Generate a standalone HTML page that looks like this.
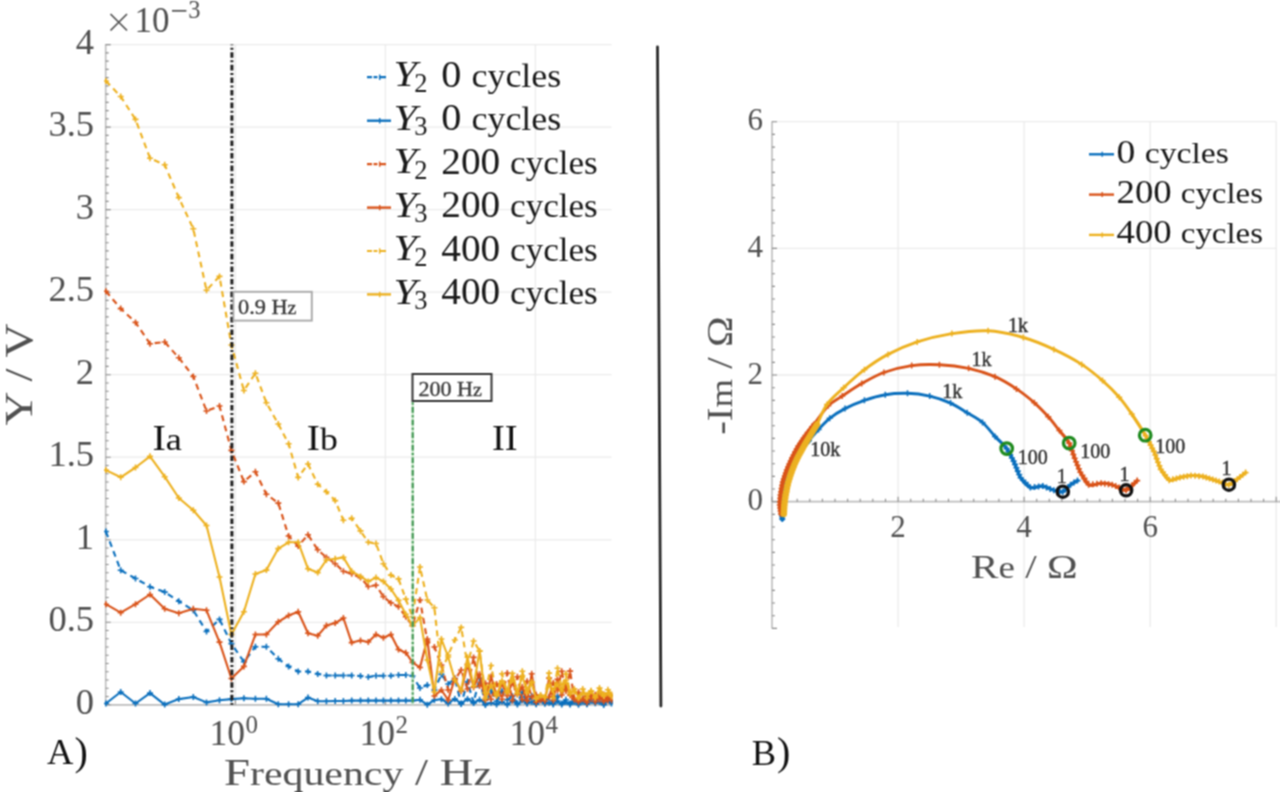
<!DOCTYPE html>
<html><head><meta charset="utf-8"><title>Figure</title>
<style>
html,body{margin:0;padding:0;background:#fff;overflow:hidden;}
svg{display:block;font-family:"Liberation Serif", serif;}

</style></head><body>
<svg width="1280" height="792" viewBox="0 0 1280 792">
<defs><filter id="soft" filterUnits="userSpaceOnUse" x="0" y="0" width="1280" height="792" color-interpolation-filters="sRGB"><feConvolveMatrix order="3" kernelMatrix="1 2 1 2 4 2 1 2 1" divisor="16" edgeMode="duplicate"/></filter><clipPath id="clipL"><rect x="104" y="40" width="509" height="668"/></clipPath></defs>
<g filter="url(#soft)">
<rect width="1280" height="792" fill="#fff"/>
<line x1="105.7" y1="704.8" x2="611.5" y2="704.8" stroke="#ebebeb" stroke-width="1.3"/>
<line x1="105.7" y1="622.3" x2="611.5" y2="622.3" stroke="#ebebeb" stroke-width="1.3"/>
<line x1="105.7" y1="539.8" x2="611.5" y2="539.8" stroke="#ebebeb" stroke-width="1.3"/>
<line x1="105.7" y1="457.2" x2="611.5" y2="457.2" stroke="#ebebeb" stroke-width="1.3"/>
<line x1="105.7" y1="374.7" x2="611.5" y2="374.7" stroke="#ebebeb" stroke-width="1.3"/>
<line x1="105.7" y1="292.2" x2="611.5" y2="292.2" stroke="#ebebeb" stroke-width="1.3"/>
<line x1="105.7" y1="209.6" x2="611.5" y2="209.6" stroke="#ebebeb" stroke-width="1.3"/>
<line x1="105.7" y1="127.1" x2="611.5" y2="127.1" stroke="#ebebeb" stroke-width="1.3"/>
<line x1="105.7" y1="44.6" x2="611.5" y2="44.6" stroke="#ebebeb" stroke-width="1.3"/>
<line x1="235.4" y1="44.6" x2="235.4" y2="704.8" stroke="#ebebeb" stroke-width="1.3"/>
<line x1="385.4" y1="44.6" x2="385.4" y2="704.8" stroke="#ebebeb" stroke-width="1.3"/>
<line x1="535.4" y1="44.6" x2="535.4" y2="704.8" stroke="#ebebeb" stroke-width="1.3"/>
<line x1="105.7" y1="44.1" x2="105.7" y2="704.8" stroke="#bdbdbd" stroke-width="1.6"/>
<line x1="105.7" y1="704.8" x2="611.5" y2="704.8" stroke="#bdbdbd" stroke-width="1.8"/>
<path d="M105.7 704.8h5M105.7 696.5h3M105.7 688.3h3M105.7 680h3M105.7 671.8h3M105.7 663.5h3M105.7 655.3h3M105.7 647h3M105.7 638.8h3M105.7 630.5h3M105.7 622.3h5M105.7 614h3M105.7 605.8h3M105.7 597.5h3M105.7 589.3h3M105.7 581h3M105.7 572.8h3M105.7 564.5h3M105.7 556.3h3M105.7 548h3M105.7 539.8h5M105.7 531.5h3M105.7 523.2h3M105.7 515h3M105.7 506.7h3M105.7 498.5h3M105.7 490.2h3M105.7 482h3M105.7 473.7h3M105.7 465.5h3M105.7 457.2h5M105.7 449h3M105.7 440.7h3M105.7 432.5h3M105.7 424.2h3M105.7 416h3M105.7 407.7h3M105.7 399.5h3M105.7 391.2h3M105.7 383h3M105.7 374.7h5M105.7 366.4h3M105.7 358.2h3M105.7 349.9h3M105.7 341.7h3M105.7 333.4h3M105.7 325.2h3M105.7 316.9h3M105.7 308.7h3M105.7 300.4h3M105.7 292.2h5M105.7 283.9h3M105.7 275.7h3M105.7 267.4h3M105.7 259.2h3M105.7 250.9h3M105.7 242.7h3M105.7 234.4h3M105.7 226.2h3M105.7 217.9h3M105.7 209.6h5M105.7 201.4h3M105.7 193.1h3M105.7 184.9h3M105.7 176.6h3M105.7 168.4h3M105.7 160.1h3M105.7 151.9h3M105.7 143.6h3M105.7 135.4h3M105.7 127.1h5M105.7 118.9h3M105.7 110.6h3M105.7 102.4h3M105.7 94.1h3M105.7 85.9h3M105.7 77.6h3M105.7 69.4h3M105.7 61.1h3M105.7 52.9h3M105.7 44.6h5" stroke="#8a8a8a" stroke-width="1.1" fill="none"/>
<path d="M235.4 704.8v-5M385.4 704.8v-5M535.4 704.8v-5" stroke="#8a8a8a" stroke-width="1.1" fill="none"/>
<g clip-path="url(#clipL)">
<polyline points="105.9,531.5 120.7,570.3 135.5,578.5 150,586.7 164.7,592.1 178.8,601.2 193.3,610.3 206.5,631.5 219.5,619.4 231.4,643.6 243.9,661.8 255.4,646.7 266.4,646.7 278.3,658.8 288.6,666.4 298.2,671.5 308,671.5 317.7,673.9 326.4,675.5 335.2,675.5 343.4,675.5 351.7,675.5 360.5,676 368.3,677 376,675.7 383.4,675.7 390.9,675.7 398.5,675 405.8,675 412.5,676 420,688 427.3,685 434.4,690 441.4,674.4 448.2,684 454.8,678.5 461.2,703.9 467.5,681.8 473.6,702.6 479.6,678.2 485.4,704.9 491.1,691 496.6,701.4 502,691.2 507.3,699.8 512.4,696.3 517.4,703.2 522.3,692.4 527.1,703.5 531.7,696.1 536.2,704.3 540.6,696.7 544.9,702.2 549.1,697 553.3,704.3 557.5,696.4 561.7,703.4 565.9,699.8 570.1,703.6 574.3,698.9 578.5,704.8 582.7,698.2 586.9,703.9 591.1,698.1 595.3,702.1 599.5,697.8 603.7,703.7 607.9,696.7 611.5,701.9" fill="none" stroke="#0a6fbd" stroke-width="2.1" stroke-linejoin="round" stroke-dasharray="6 4.5"/>
<path d="M102.9 531.5h6M105.9 528.5v6M117.7 570.3h6M120.7 567.3v6M132.5 578.5h6M135.5 575.5v6M147 586.7h6M150 583.7v6M161.7 592.1h6M164.7 589.1v6M175.8 601.2h6M178.8 598.2v6M190.3 610.3h6M193.3 607.3v6M203.5 631.5h6M206.5 628.5v6M216.5 619.4h6M219.5 616.4v6M228.4 643.6h6M231.4 640.6v6M240.9 661.8h6M243.9 658.8v6M252.4 646.7h6M255.4 643.7v6M263.4 646.7h6M266.4 643.7v6M275.3 658.8h6M278.3 655.8v6M285.6 666.4h6M288.6 663.4v6M295.2 671.5h6M298.2 668.5v6M305 671.5h6M308 668.5v6M314.7 673.9h6M317.7 670.9v6M323.4 675.5h6M326.4 672.5v6M332.2 675.5h6M335.2 672.5v6M340.4 675.5h6M343.4 672.5v6M348.7 675.5h6M351.7 672.5v6M357.5 676h6M360.5 673v6M365.3 677h6M368.3 674v6M373 675.7h6M376 672.7v6M380.4 675.7h6M383.4 672.7v6M387.9 675.7h6M390.9 672.7v6M395.5 675h6M398.5 672v6M402.8 675h6M405.8 672v6M409.5 676h6M412.5 673v6M417 688h6M420 685v6M424.3 685h6M427.3 682v6M431.4 690h6M434.4 687v6M438.4 674.4h6M441.4 671.4v6M445.2 684h6M448.2 681v6M451.8 678.5h6M454.8 675.5v6M458.2 703.9h6M461.2 700.9v6M464.5 681.8h6M467.5 678.8v6M470.6 702.6h6M473.6 699.6v6M476.6 678.2h6M479.6 675.2v6M482.4 704.9h6M485.4 701.9v6M488.1 691h6M491.1 688v6M493.6 701.4h6M496.6 698.4v6M499 691.2h6M502 688.2v6M504.3 699.8h6M507.3 696.8v6M509.4 696.3h6M512.4 693.3v6M514.4 703.2h6M517.4 700.2v6M519.3 692.4h6M522.3 689.4v6M524.1 703.5h6M527.1 700.5v6M528.7 696.1h6M531.7 693.1v6M533.2 704.3h6M536.2 701.3v6M537.6 696.7h6M540.6 693.7v6M541.9 702.2h6M544.9 699.2v6M546.1 697h6M549.1 694v6M550.3 704.3h6M553.3 701.3v6M554.5 696.4h6M557.5 693.4v6M558.7 703.4h6M561.7 700.4v6M562.9 699.8h6M565.9 696.8v6M567.1 703.6h6M570.1 700.6v6M571.3 698.9h6M574.3 695.9v6M575.5 704.8h6M578.5 701.8v6M579.7 698.2h6M582.7 695.2v6M583.9 703.9h6M586.9 700.9v6M588.1 698.1h6M591.1 695.1v6M592.3 702.1h6M595.3 699.1v6M596.5 697.8h6M599.5 694.8v6M600.7 703.7h6M603.7 700.7v6M604.9 696.7h6M607.9 693.7v6M608.5 701.9h6M611.5 698.9v6" stroke="#0a6fbd" stroke-width="1.6" fill="none"/>
<polyline points="105.9,703.5 120.7,692 135.5,703.5 150,693.1 164.7,704.6 178.8,699.1 193.3,697 206.5,702.4 219.5,700.2 231.4,699.1 243.9,698.2 255.4,698.8 266.4,698.8 278.3,704.2 288.6,704.2 298.2,704.2 308,697.6 317.7,701.2 326.4,701.2 335.2,701 343.4,701 351.7,700.6 360.5,700.6 368.3,700.6 376,700.6 383.4,700.6 390.9,700.6 398.5,700.6 405.8,700.6 412.5,700.6 420,699.8 427.3,704.7 434.4,700 441.4,699.2 448.2,703.5 454.8,698.9 461.2,703.6 467.5,698.9 473.6,702.9 479.6,699.7 485.4,703.9 491.1,702.7 496.6,704.5 502,701.8 507.3,704.8 512.4,700.7 517.4,704.5 522.3,700.6 527.1,703.3 531.7,702.1 536.2,703.4 540.6,700.5 544.9,703.8 549.1,702.7 553.3,704.2 557.5,701 561.7,704.5 565.9,702.1 570.1,704.5 574.3,702 578.5,703.6 582.7,701.8 586.9,704.3 591.1,701 595.3,703.3 599.5,701.9 603.7,704.9 607.9,700.1 611.5,703.5" fill="none" stroke="#0a6fbd" stroke-width="2.1" stroke-linejoin="round"/>
<path d="M102.9 703.5h6M105.9 700.5v6M117.7 692h6M120.7 689v6M132.5 703.5h6M135.5 700.5v6M147 693.1h6M150 690.1v6M161.7 704.6h6M164.7 701.6v6M175.8 699.1h6M178.8 696.1v6M190.3 697h6M193.3 694v6M203.5 702.4h6M206.5 699.4v6M216.5 700.2h6M219.5 697.2v6M228.4 699.1h6M231.4 696.1v6M240.9 698.2h6M243.9 695.2v6M252.4 698.8h6M255.4 695.8v6M263.4 698.8h6M266.4 695.8v6M275.3 704.2h6M278.3 701.2v6M285.6 704.2h6M288.6 701.2v6M295.2 704.2h6M298.2 701.2v6M305 697.6h6M308 694.6v6M314.7 701.2h6M317.7 698.2v6M323.4 701.2h6M326.4 698.2v6M332.2 701h6M335.2 698v6M340.4 701h6M343.4 698v6M348.7 700.6h6M351.7 697.6v6M357.5 700.6h6M360.5 697.6v6M365.3 700.6h6M368.3 697.6v6M373 700.6h6M376 697.6v6M380.4 700.6h6M383.4 697.6v6M387.9 700.6h6M390.9 697.6v6M395.5 700.6h6M398.5 697.6v6M402.8 700.6h6M405.8 697.6v6M409.5 700.6h6M412.5 697.6v6M417 699.8h6M420 696.8v6M424.3 704.7h6M427.3 701.7v6M431.4 700h6M434.4 697v6M438.4 699.2h6M441.4 696.2v6M445.2 703.5h6M448.2 700.5v6M451.8 698.9h6M454.8 695.9v6M458.2 703.6h6M461.2 700.6v6M464.5 698.9h6M467.5 695.9v6M470.6 702.9h6M473.6 699.9v6M476.6 699.7h6M479.6 696.7v6M482.4 703.9h6M485.4 700.9v6M488.1 702.7h6M491.1 699.7v6M493.6 704.5h6M496.6 701.5v6M499 701.8h6M502 698.8v6M504.3 704.8h6M507.3 701.8v6M509.4 700.7h6M512.4 697.7v6M514.4 704.5h6M517.4 701.5v6M519.3 700.6h6M522.3 697.6v6M524.1 703.3h6M527.1 700.3v6M528.7 702.1h6M531.7 699.1v6M533.2 703.4h6M536.2 700.4v6M537.6 700.5h6M540.6 697.5v6M541.9 703.8h6M544.9 700.8v6M546.1 702.7h6M549.1 699.7v6M550.3 704.2h6M553.3 701.2v6M554.5 701h6M557.5 698v6M558.7 704.5h6M561.7 701.5v6M562.9 702.1h6M565.9 699.1v6M567.1 704.5h6M570.1 701.5v6M571.3 702h6M574.3 699v6M575.5 703.6h6M578.5 700.6v6M579.7 701.8h6M582.7 698.8v6M583.9 704.3h6M586.9 701.3v6M588.1 701h6M591.1 698v6M592.3 703.3h6M595.3 700.3v6M596.5 701.9h6M599.5 698.9v6M600.7 704.9h6M603.7 701.9v6M604.9 700.1h6M607.9 697.1v6M608.5 703.5h6M611.5 700.5v6" stroke="#0a6fbd" stroke-width="1.6" fill="none"/>
<polyline points="105.9,291.2 120.7,308.6 135.5,322.4 150,343.7 164.7,342 178.8,357.8 193.3,376.5 206.5,411 219.5,406 231.4,450.4 243.9,481.6 255.4,471.8 266.4,494.3 278.3,503.1 288.6,536 298.2,546.1 308,534.7 317.7,549.8 326.4,557.4 335.2,563.7 343.4,571.3 351.7,573.8 360.5,577.6 368.3,586.5 376,585.2 383.4,596.6 390.9,602.9 398.5,606.7 405.8,616.8 412.5,625.6 420,600 427.3,641 434.4,647 441.4,665 448.2,690 454.8,680 461.2,670 467.5,689 473.6,657.4 479.6,685.9 485.4,683.2 491.1,699.3 496.6,683.9 502,699.3 507.3,673 512.4,700.5 517.4,676.8 522.3,699.5 527.1,681.2 531.7,696.9 536.2,694.7 540.6,700.3 544.9,698.3 549.1,696.9 553.3,683 557.5,690.2 561.7,671.3 565.9,691 570.1,671.1 574.3,699.4 578.5,692.3 582.7,699.2 586.9,696.1 591.1,699 595.3,694.8 599.5,699.4 603.7,694.4 607.9,700.5 611.5,695.5" fill="none" stroke="#d95319" stroke-width="2.1" stroke-linejoin="round" stroke-dasharray="6 4.5"/>
<path d="M102.9 291.2h6M105.9 288.2v6M117.7 308.6h6M120.7 305.6v6M132.5 322.4h6M135.5 319.4v6M147 343.7h6M150 340.7v6M161.7 342h6M164.7 339v6M175.8 357.8h6M178.8 354.8v6M190.3 376.5h6M193.3 373.5v6M203.5 411h6M206.5 408v6M216.5 406h6M219.5 403v6M228.4 450.4h6M231.4 447.4v6M240.9 481.6h6M243.9 478.6v6M252.4 471.8h6M255.4 468.8v6M263.4 494.3h6M266.4 491.3v6M275.3 503.1h6M278.3 500.1v6M285.6 536h6M288.6 533v6M295.2 546.1h6M298.2 543.1v6M305 534.7h6M308 531.7v6M314.7 549.8h6M317.7 546.8v6M323.4 557.4h6M326.4 554.4v6M332.2 563.7h6M335.2 560.7v6M340.4 571.3h6M343.4 568.3v6M348.7 573.8h6M351.7 570.8v6M357.5 577.6h6M360.5 574.6v6M365.3 586.5h6M368.3 583.5v6M373 585.2h6M376 582.2v6M380.4 596.6h6M383.4 593.6v6M387.9 602.9h6M390.9 599.9v6M395.5 606.7h6M398.5 603.7v6M402.8 616.8h6M405.8 613.8v6M409.5 625.6h6M412.5 622.6v6M417 600h6M420 597v6M424.3 641h6M427.3 638v6M431.4 647h6M434.4 644v6M438.4 665h6M441.4 662v6M445.2 690h6M448.2 687v6M451.8 680h6M454.8 677v6M458.2 670h6M461.2 667v6M464.5 689h6M467.5 686v6M470.6 657.4h6M473.6 654.4v6M476.6 685.9h6M479.6 682.9v6M482.4 683.2h6M485.4 680.2v6M488.1 699.3h6M491.1 696.3v6M493.6 683.9h6M496.6 680.9v6M499 699.3h6M502 696.3v6M504.3 673h6M507.3 670v6M509.4 700.5h6M512.4 697.5v6M514.4 676.8h6M517.4 673.8v6M519.3 699.5h6M522.3 696.5v6M524.1 681.2h6M527.1 678.2v6M528.7 696.9h6M531.7 693.9v6M533.2 694.7h6M536.2 691.7v6M537.6 700.3h6M540.6 697.3v6M541.9 698.3h6M544.9 695.3v6M546.1 696.9h6M549.1 693.9v6M550.3 683h6M553.3 680v6M554.5 690.2h6M557.5 687.2v6M558.7 671.3h6M561.7 668.3v6M562.9 691h6M565.9 688v6M567.1 671.1h6M570.1 668.1v6M571.3 699.4h6M574.3 696.4v6M575.5 692.3h6M578.5 689.3v6M579.7 699.2h6M582.7 696.2v6M583.9 696.1h6M586.9 693.1v6M588.1 699h6M591.1 696v6M592.3 694.8h6M595.3 691.8v6M596.5 699.4h6M599.5 696.4v6M600.7 694.4h6M603.7 691.4v6M604.9 700.5h6M607.9 697.5v6M608.5 695.5h6M611.5 692.5v6" stroke="#d95319" stroke-width="1.6" fill="none"/>
<polyline points="105.9,604.2 120.7,612.7 135.5,604.2 150,594.5 164.7,608.8 178.8,613.3 193.3,608.8 206.5,610.3 219.5,642.1 231.4,678.5 243.9,666.4 255.4,634.5 266.4,634.4 278.3,621.8 288.6,615.5 298.2,611.7 308,633.2 317.7,635.7 326.4,625.6 335.2,623.1 343.4,618 351.7,642.6 360.5,640.5 368.3,642 376,634.5 383.4,637.7 390.9,634.5 398.5,649.5 405.8,652.7 412.5,662.4 420,667.5 427.3,639 434.4,696 441.4,690 448.2,700 454.8,678.6 461.2,691.2 467.5,664.2 473.6,687.2 479.6,674.2 485.4,700.2 491.1,676.5 496.6,695.9 502,683.9 507.3,695.6 512.4,682.3 517.4,694.6 522.3,687 527.1,700.6 531.7,673.7 536.2,702.1 540.6,698.8 544.9,701 549.1,678.1 553.3,700.4 557.5,679.4 561.7,695 565.9,685.8 570.1,695.2 574.3,698.3 578.5,701.9 582.7,698.5 586.9,702.4 591.1,694.1 595.3,701.7 599.5,694 603.7,701.6 607.9,695.9 611.5,700.3" fill="none" stroke="#d95319" stroke-width="2.1" stroke-linejoin="round"/>
<path d="M102.9 604.2h6M105.9 601.2v6M117.7 612.7h6M120.7 609.7v6M132.5 604.2h6M135.5 601.2v6M147 594.5h6M150 591.5v6M161.7 608.8h6M164.7 605.8v6M175.8 613.3h6M178.8 610.3v6M190.3 608.8h6M193.3 605.8v6M203.5 610.3h6M206.5 607.3v6M216.5 642.1h6M219.5 639.1v6M228.4 678.5h6M231.4 675.5v6M240.9 666.4h6M243.9 663.4v6M252.4 634.5h6M255.4 631.5v6M263.4 634.4h6M266.4 631.4v6M275.3 621.8h6M278.3 618.8v6M285.6 615.5h6M288.6 612.5v6M295.2 611.7h6M298.2 608.7v6M305 633.2h6M308 630.2v6M314.7 635.7h6M317.7 632.7v6M323.4 625.6h6M326.4 622.6v6M332.2 623.1h6M335.2 620.1v6M340.4 618h6M343.4 615v6M348.7 642.6h6M351.7 639.6v6M357.5 640.5h6M360.5 637.5v6M365.3 642h6M368.3 639v6M373 634.5h6M376 631.5v6M380.4 637.7h6M383.4 634.7v6M387.9 634.5h6M390.9 631.5v6M395.5 649.5h6M398.5 646.5v6M402.8 652.7h6M405.8 649.7v6M409.5 662.4h6M412.5 659.4v6M417 667.5h6M420 664.5v6M424.3 639h6M427.3 636v6M431.4 696h6M434.4 693v6M438.4 690h6M441.4 687v6M445.2 700h6M448.2 697v6M451.8 678.6h6M454.8 675.6v6M458.2 691.2h6M461.2 688.2v6M464.5 664.2h6M467.5 661.2v6M470.6 687.2h6M473.6 684.2v6M476.6 674.2h6M479.6 671.2v6M482.4 700.2h6M485.4 697.2v6M488.1 676.5h6M491.1 673.5v6M493.6 695.9h6M496.6 692.9v6M499 683.9h6M502 680.9v6M504.3 695.6h6M507.3 692.6v6M509.4 682.3h6M512.4 679.3v6M514.4 694.6h6M517.4 691.6v6M519.3 687h6M522.3 684v6M524.1 700.6h6M527.1 697.6v6M528.7 673.7h6M531.7 670.7v6M533.2 702.1h6M536.2 699.1v6M537.6 698.8h6M540.6 695.8v6M541.9 701h6M544.9 698v6M546.1 678.1h6M549.1 675.1v6M550.3 700.4h6M553.3 697.4v6M554.5 679.4h6M557.5 676.4v6M558.7 695h6M561.7 692v6M562.9 685.8h6M565.9 682.8v6M567.1 695.2h6M570.1 692.2v6M571.3 698.3h6M574.3 695.3v6M575.5 701.9h6M578.5 698.9v6M579.7 698.5h6M582.7 695.5v6M583.9 702.4h6M586.9 699.4v6M588.1 694.1h6M591.1 691.1v6M592.3 701.7h6M595.3 698.7v6M596.5 694h6M599.5 691v6M600.7 701.6h6M603.7 698.6v6M604.9 695.9h6M607.9 692.9v6M608.5 700.3h6M611.5 697.3v6" stroke="#d95319" stroke-width="1.6" fill="none"/>
<polyline points="105.9,81 120.7,96.5 135.5,119.4 150,158.2 164.7,164.8 178.8,197.6 193.3,228.8 206.5,290.2 219.5,276.4 231.4,345 243.9,390.5 255.4,373.3 266.4,402.8 278.3,424 288.6,443.8 298.2,477.4 308,464 317.7,484.2 326.4,491.8 335.2,500.6 343.4,520.3 351.7,518.3 360.5,530.9 368.3,542.3 376,543.5 383.4,563.7 390.9,575.1 398.5,578.9 405.8,599.1 412.5,616.8 420,567 427.3,600 434.4,607.8 441.4,672 448.2,655 454.8,640 461.2,627.4 467.5,665 473.6,641 479.6,651.1 485.4,692.9 491.1,665.5 496.6,694.1 502,673.7 507.3,692.6 512.4,680.1 517.4,693.5 522.3,671.3 527.1,690 531.7,681.9 536.2,698.9 540.6,695 544.9,697.2 549.1,673.1 553.3,697.6 557.5,668.3 561.7,687.9 565.9,673.7 570.1,691.5 574.3,691.6 578.5,697.9 582.7,689.1 586.9,697.7 591.1,691.3 595.3,697 599.5,692.4 603.7,696.1 607.9,689.7 611.5,694.5" fill="none" stroke="#edb120" stroke-width="2.1" stroke-linejoin="round" stroke-dasharray="6 4.5"/>
<path d="M102.9 81h6M105.9 78v6M117.7 96.5h6M120.7 93.5v6M132.5 119.4h6M135.5 116.4v6M147 158.2h6M150 155.2v6M161.7 164.8h6M164.7 161.8v6M175.8 197.6h6M178.8 194.6v6M190.3 228.8h6M193.3 225.8v6M203.5 290.2h6M206.5 287.2v6M216.5 276.4h6M219.5 273.4v6M228.4 345h6M231.4 342v6M240.9 390.5h6M243.9 387.5v6M252.4 373.3h6M255.4 370.3v6M263.4 402.8h6M266.4 399.8v6M275.3 424h6M278.3 421v6M285.6 443.8h6M288.6 440.8v6M295.2 477.4h6M298.2 474.4v6M305 464h6M308 461v6M314.7 484.2h6M317.7 481.2v6M323.4 491.8h6M326.4 488.8v6M332.2 500.6h6M335.2 497.6v6M340.4 520.3h6M343.4 517.3v6M348.7 518.3h6M351.7 515.3v6M357.5 530.9h6M360.5 527.9v6M365.3 542.3h6M368.3 539.3v6M373 543.5h6M376 540.5v6M380.4 563.7h6M383.4 560.7v6M387.9 575.1h6M390.9 572.1v6M395.5 578.9h6M398.5 575.9v6M402.8 599.1h6M405.8 596.1v6M409.5 616.8h6M412.5 613.8v6M417 567h6M420 564v6M424.3 600h6M427.3 597v6M431.4 607.8h6M434.4 604.8v6M438.4 672h6M441.4 669v6M445.2 655h6M448.2 652v6M451.8 640h6M454.8 637v6M458.2 627.4h6M461.2 624.4v6M464.5 665h6M467.5 662v6M470.6 641h6M473.6 638v6M476.6 651.1h6M479.6 648.1v6M482.4 692.9h6M485.4 689.9v6M488.1 665.5h6M491.1 662.5v6M493.6 694.1h6M496.6 691.1v6M499 673.7h6M502 670.7v6M504.3 692.6h6M507.3 689.6v6M509.4 680.1h6M512.4 677.1v6M514.4 693.5h6M517.4 690.5v6M519.3 671.3h6M522.3 668.3v6M524.1 690h6M527.1 687v6M528.7 681.9h6M531.7 678.9v6M533.2 698.9h6M536.2 695.9v6M537.6 695h6M540.6 692v6M541.9 697.2h6M544.9 694.2v6M546.1 673.1h6M549.1 670.1v6M550.3 697.6h6M553.3 694.6v6M554.5 668.3h6M557.5 665.3v6M558.7 687.9h6M561.7 684.9v6M562.9 673.7h6M565.9 670.7v6M567.1 691.5h6M570.1 688.5v6M571.3 691.6h6M574.3 688.6v6M575.5 697.9h6M578.5 694.9v6M579.7 689.1h6M582.7 686.1v6M583.9 697.7h6M586.9 694.7v6M588.1 691.3h6M591.1 688.3v6M592.3 697h6M595.3 694v6M596.5 692.4h6M599.5 689.4v6M600.7 696.1h6M603.7 693.1v6M604.9 689.7h6M607.9 686.7v6M608.5 694.5h6M611.5 691.5v6" stroke="#edb120" stroke-width="1.6" fill="none"/>
<polyline points="105.9,470.1 120.7,477.3 135.5,467.5 150,456.3 164.7,476.7 178.8,498 193.3,510.3 206.5,525.5 219.5,577 231.4,634.5 243.9,611.8 255.4,574 266.4,570.1 278.3,548.6 288.6,542.3 298.2,542.3 308,568.8 317.7,572.6 326.4,560 335.2,558.7 343.4,557.4 351.7,571.3 360.5,576.4 368.3,581.4 376,577.6 383.4,581.4 390.9,589 398.5,600.4 405.8,614.2 412.5,625.6 420,617.6 427.3,660 434.4,692 441.4,639 448.2,657 454.8,680 461.2,690 467.5,657.3 473.6,686.2 479.6,651 485.4,698.4 491.1,685.4 496.6,695.8 502,680.8 507.3,690.9 512.4,673.4 517.4,693.3 522.3,675.8 527.1,692.6 531.7,683 536.2,698.8 540.6,695.7 544.9,697.5 549.1,684.5 553.3,690 557.5,684.3 561.7,691.3 565.9,680.2 570.1,694 574.3,688.9 578.5,697.9 582.7,693.2 586.9,694.8 591.1,690.7 595.3,697.7 599.5,688.1 603.7,694.7 607.9,692.9 611.5,696.5" fill="none" stroke="#edb120" stroke-width="2.1" stroke-linejoin="round"/>
<path d="M102.9 470.1h6M105.9 467.1v6M117.7 477.3h6M120.7 474.3v6M132.5 467.5h6M135.5 464.5v6M147 456.3h6M150 453.3v6M161.7 476.7h6M164.7 473.7v6M175.8 498h6M178.8 495v6M190.3 510.3h6M193.3 507.3v6M203.5 525.5h6M206.5 522.5v6M216.5 577h6M219.5 574v6M228.4 634.5h6M231.4 631.5v6M240.9 611.8h6M243.9 608.8v6M252.4 574h6M255.4 571v6M263.4 570.1h6M266.4 567.1v6M275.3 548.6h6M278.3 545.6v6M285.6 542.3h6M288.6 539.3v6M295.2 542.3h6M298.2 539.3v6M305 568.8h6M308 565.8v6M314.7 572.6h6M317.7 569.6v6M323.4 560h6M326.4 557v6M332.2 558.7h6M335.2 555.7v6M340.4 557.4h6M343.4 554.4v6M348.7 571.3h6M351.7 568.3v6M357.5 576.4h6M360.5 573.4v6M365.3 581.4h6M368.3 578.4v6M373 577.6h6M376 574.6v6M380.4 581.4h6M383.4 578.4v6M387.9 589h6M390.9 586v6M395.5 600.4h6M398.5 597.4v6M402.8 614.2h6M405.8 611.2v6M409.5 625.6h6M412.5 622.6v6M417 617.6h6M420 614.6v6M424.3 660h6M427.3 657v6M431.4 692h6M434.4 689v6M438.4 639h6M441.4 636v6M445.2 657h6M448.2 654v6M451.8 680h6M454.8 677v6M458.2 690h6M461.2 687v6M464.5 657.3h6M467.5 654.3v6M470.6 686.2h6M473.6 683.2v6M476.6 651h6M479.6 648v6M482.4 698.4h6M485.4 695.4v6M488.1 685.4h6M491.1 682.4v6M493.6 695.8h6M496.6 692.8v6M499 680.8h6M502 677.8v6M504.3 690.9h6M507.3 687.9v6M509.4 673.4h6M512.4 670.4v6M514.4 693.3h6M517.4 690.3v6M519.3 675.8h6M522.3 672.8v6M524.1 692.6h6M527.1 689.6v6M528.7 683h6M531.7 680v6M533.2 698.8h6M536.2 695.8v6M537.6 695.7h6M540.6 692.7v6M541.9 697.5h6M544.9 694.5v6M546.1 684.5h6M549.1 681.5v6M550.3 690h6M553.3 687v6M554.5 684.3h6M557.5 681.3v6M558.7 691.3h6M561.7 688.3v6M562.9 680.2h6M565.9 677.2v6M567.1 694h6M570.1 691v6M571.3 688.9h6M574.3 685.9v6M575.5 697.9h6M578.5 694.9v6M579.7 693.2h6M582.7 690.2v6M583.9 694.8h6M586.9 691.8v6M588.1 690.7h6M591.1 687.7v6M592.3 697.7h6M595.3 694.7v6M596.5 688.1h6M599.5 685.1v6M600.7 694.7h6M603.7 691.7v6M604.9 692.9h6M607.9 689.9v6M608.5 696.5h6M611.5 693.5v6" stroke="#edb120" stroke-width="1.6" fill="none"/>
</g>
<line x1="231.9" y1="44.6" x2="231.9" y2="704.8" stroke="#1e1e1e" stroke-width="3" stroke-dasharray="5.6 2.5 2 2.5" stroke-dashoffset="5"/>
<line x1="412.7" y1="401" x2="412.7" y2="704.8" stroke="#bfe6c0" stroke-width="2"/>
<line x1="412.7" y1="401" x2="412.7" y2="704.8" stroke="#3f9550" stroke-width="2.2" stroke-dasharray="5.6 2.5 2 2.5" stroke-dashoffset="6.5"/>
<rect x="233.4" y="291.8" width="78.4" height="28.8" fill="#fff" stroke="#a8a8a8" stroke-width="1.9"/>
<text x="238" y="313.8" font-size="20" fill="#3a3a3a" text-anchor="start" textLength="58.5" lengthAdjust="spacingAndGlyphs" stroke="#3a3a3a" stroke-width="0.35" style="">0.9 H<tspan font-size="18">z</tspan></text>
<rect x="412.5" y="374" width="79" height="27" fill="#fff" stroke="#333" stroke-width="2"/>
<text x="418.4" y="395.8" font-size="20" fill="#3a3a3a" text-anchor="start" textLength="63.5" lengthAdjust="spacingAndGlyphs" stroke="#3a3a3a" stroke-width="0.35" style="">200 H<tspan font-size="18">z</tspan></text>
<text x="152.5" y="450.4" font-size="36" fill="#111" text-anchor="start" textLength="29.5" lengthAdjust="spacingAndGlyphs"  style="">I<tspan font-size="32.5">a</tspan></text>
<text x="306.8" y="450.4" font-size="36" fill="#111" text-anchor="start" textLength="31" lengthAdjust="spacingAndGlyphs"  style="">I<tspan font-size="32.5">b</tspan></text>
<text x="492" y="449.7" font-size="36" fill="#111" text-anchor="start" textLength="25.7" lengthAdjust="spacingAndGlyphs"  style="">II</text>
<path d="M367 77.2h5M373.5 77.2h4M380 77.2h6" stroke="#0a6fbd" stroke-width="2.2" fill="none"/>
<path d="M379.7 74.5v5.4" stroke="#0a6fbd" stroke-width="1.4"/>
<text x="393.5" y="86.3" font-size="36" fill="#1a1a1a" text-anchor="start" textLength="23.5" lengthAdjust="spacingAndGlyphs"  style="font-style:italic">Y</text>
<text x="414.3" y="91.8" font-size="26.5" fill="#1a1a1a" text-anchor="start"  style="">2</text>
<text x="441.3" y="87" font-size="37.5" fill="#1a1a1a" text-anchor="start" textLength="120" lengthAdjust="spacingAndGlyphs"  style="">0 <tspan font-size="33.5">cycles</tspan></text>
<path d="M367 120.7h24" stroke="#0a6fbd" stroke-width="2.4" fill="none"/>
<path d="M379.7 118v5.4" stroke="#0a6fbd" stroke-width="1.4"/>
<text x="393.5" y="129.8" font-size="36" fill="#1a1a1a" text-anchor="start" textLength="23.5" lengthAdjust="spacingAndGlyphs"  style="font-style:italic">Y</text>
<text x="414.3" y="135.2" font-size="26.5" fill="#1a1a1a" text-anchor="start"  style="">3</text>
<text x="441.3" y="130.4" font-size="37.5" fill="#1a1a1a" text-anchor="start" textLength="120" lengthAdjust="spacingAndGlyphs"  style="">0 <tspan font-size="33.5">cycles</tspan></text>
<path d="M367 164.1h5M373.5 164.1h4M380 164.1h6" stroke="#d95319" stroke-width="2.2" fill="none"/>
<path d="M379.7 161.4v5.4" stroke="#d95319" stroke-width="1.4"/>
<text x="393.5" y="173.2" font-size="36" fill="#1a1a1a" text-anchor="start" textLength="23.5" lengthAdjust="spacingAndGlyphs"  style="font-style:italic">Y</text>
<text x="414.3" y="178.7" font-size="26.5" fill="#1a1a1a" text-anchor="start"  style="">2</text>
<text x="441.3" y="173.9" font-size="37.5" fill="#1a1a1a" text-anchor="start" textLength="156.5" lengthAdjust="spacingAndGlyphs"  style="">200 <tspan font-size="33.5">cycles</tspan></text>
<path d="M367 207.6h24" stroke="#d95319" stroke-width="2.4" fill="none"/>
<path d="M379.7 204.9v5.4" stroke="#d95319" stroke-width="1.4"/>
<text x="393.5" y="216.7" font-size="36" fill="#1a1a1a" text-anchor="start" textLength="23.5" lengthAdjust="spacingAndGlyphs"  style="font-style:italic">Y</text>
<text x="414.3" y="222.2" font-size="26.5" fill="#1a1a1a" text-anchor="start"  style="">3</text>
<text x="441.3" y="217.4" font-size="37.5" fill="#1a1a1a" text-anchor="start" textLength="156.5" lengthAdjust="spacingAndGlyphs"  style="">200 <tspan font-size="33.5">cycles</tspan></text>
<path d="M367 251h5M373.5 251h4M380 251h6" stroke="#edb120" stroke-width="2.2" fill="none"/>
<path d="M379.7 248.3v5.4" stroke="#edb120" stroke-width="1.4"/>
<text x="393.5" y="260.1" font-size="36" fill="#1a1a1a" text-anchor="start" textLength="23.5" lengthAdjust="spacingAndGlyphs"  style="font-style:italic">Y</text>
<text x="414.3" y="265.6" font-size="26.5" fill="#1a1a1a" text-anchor="start"  style="">2</text>
<text x="441.3" y="260.8" font-size="37.5" fill="#1a1a1a" text-anchor="start" textLength="156.5" lengthAdjust="spacingAndGlyphs"  style="">400 <tspan font-size="33.5">cycles</tspan></text>
<path d="M367 294.4h24" stroke="#edb120" stroke-width="2.4" fill="none"/>
<path d="M379.7 291.8v5.4" stroke="#edb120" stroke-width="1.4"/>
<text x="393.5" y="303.6" font-size="36" fill="#1a1a1a" text-anchor="start" textLength="23.5" lengthAdjust="spacingAndGlyphs"  style="font-style:italic">Y</text>
<text x="414.3" y="309.1" font-size="26.5" fill="#1a1a1a" text-anchor="start"  style="">3</text>
<text x="441.3" y="304.2" font-size="37.5" fill="#1a1a1a" text-anchor="start" textLength="156.5" lengthAdjust="spacingAndGlyphs"  style="">400 <tspan font-size="33.5">cycles</tspan></text>
<text x="94" y="713.8" font-size="36.5" fill="#505050" text-anchor="end"  style="">0</text>
<text x="94" y="631.3" font-size="36.5" fill="#505050" text-anchor="end"  style="">0.5</text>
<text x="94" y="548.8" font-size="36.5" fill="#505050" text-anchor="end"  style="">1</text>
<text x="94" y="466.2" font-size="36.5" fill="#505050" text-anchor="end"  style="">1.5</text>
<text x="94" y="383.7" font-size="36.5" fill="#505050" text-anchor="end"  style="">2</text>
<text x="94" y="301.2" font-size="36.5" fill="#505050" text-anchor="end"  style="">2.5</text>
<text x="94" y="218.6" font-size="36.5" fill="#505050" text-anchor="end"  style="">3</text>
<text x="94" y="136.1" font-size="36.5" fill="#505050" text-anchor="end"  style="">3.5</text>
<text x="94" y="53.6" font-size="36.5" fill="#505050" text-anchor="end"  style="">4</text>
<text x="209.4" y="745" font-size="35.5" fill="#505050" text-anchor="start"  style="">10</text>
<text x="245.4" y="733.3" font-size="25" fill="#505050" text-anchor="start"  style="">0</text>
<text x="359.4" y="745" font-size="35.5" fill="#505050" text-anchor="start"  style="">10</text>
<text x="395.4" y="733.3" font-size="25" fill="#505050" text-anchor="start"  style="">2</text>
<text x="509.4" y="745" font-size="35.5" fill="#505050" text-anchor="start"  style="">10</text>
<text x="545.4" y="733.3" font-size="25" fill="#505050" text-anchor="start"  style="">4</text>
<path d="M110.5 14L127 30.5M127 14L110.5 30.5" stroke="#505050" stroke-width="1.7" fill="none"/>
<text x="134.5" y="31.5" font-size="35" fill="#505050" text-anchor="start"  style="">10</text>
<path d="M172 10.8H186.4" stroke="#505050" stroke-width="1.7"/>
<text x="188.3" y="17.8" font-size="24.5" fill="#505050" text-anchor="start"  style="">3</text>
<text x="224" y="785.4" font-size="38.5" fill="#505050" text-anchor="start" textLength="268" lengthAdjust="spacingAndGlyphs"  style="">F<tspan font-size="34.5">requency</tspan> / H<tspan font-size="34.5">z</tspan></text>
<text transform="translate(31.5,374.5) rotate(-90)" x="0" y="0" font-size="39.5" fill="#505050" text-anchor="middle" textLength="102" lengthAdjust="spacingAndGlyphs">Y / V</text>
<text x="47" y="764.3" font-size="36.5" fill="#111" text-anchor="start"  style="">A</text>
<text x="74.6" y="764.6" font-size="40" fill="#111" text-anchor="start"  style="">)</text>
<line x1="657.5" y1="46.8" x2="660.9" y2="706" stroke="#2a2a2a" stroke-width="2.8" stroke-linecap="round"/>
<line x1="898.1" y1="121.7" x2="898.1" y2="626.9" stroke="#ebebeb" stroke-width="1.3"/>
<line x1="1024.1" y1="121.7" x2="1024.1" y2="626.9" stroke="#ebebeb" stroke-width="1.3"/>
<line x1="1150.2" y1="121.7" x2="1150.2" y2="626.9" stroke="#ebebeb" stroke-width="1.3"/>
<line x1="1276.2" y1="121.7" x2="1276.2" y2="626.9" stroke="#ebebeb" stroke-width="1.3"/>
<line x1="772" y1="375" x2="1276.2" y2="375" stroke="#ebebeb" stroke-width="1.3"/>
<line x1="772" y1="248.4" x2="1276.2" y2="248.4" stroke="#ebebeb" stroke-width="1.3"/>
<line x1="772" y1="121.7" x2="1276.2" y2="121.7" stroke="#ebebeb" stroke-width="1.3"/>
<line x1="772.0" y1="121.2" x2="772.0" y2="628.4" stroke="#bdbdbd" stroke-width="1.6"/>
<line x1="772.0" y1="501.7" x2="1280" y2="501.7" stroke="#bdbdbd" stroke-width="1.8"/>
<path d="M772 628.4h5M772 615.7h3M772 603h3M772 590.4h3M772 577.7h3M772 565h3M772 552.4h3M772 539.7h3M772 527h3M772 514.4h3M772 501.7h5M772 489h3M772 476.4h3M772 463.7h3M772 451h3M772 438.4h3M772 425.7h3M772 413h3M772 400.4h3M772 387.7h3M772 375h5M772 362.4h3M772 349.7h3M772 337h3M772 324.4h3M772 311.7h3M772 299h3M772 286.4h3M772 273.7h3M772 261h3M772 248.4h5M772 235.7h3M772 223h3M772 210.4h3M772 197.7h3M772 185.1h3M772 172.4h3M772 159.7h3M772 147.1h3M772 134.4h3M772 121.7h5M772 501.7v-5M784.6 501.7v-3M797.2 501.7v-3M809.8 501.7v-3M822.4 501.7v-3M835 501.7v-3M847.6 501.7v-3M860.2 501.7v-3M872.8 501.7v-3M885.5 501.7v-3M898.1 501.7v-5M910.7 501.7v-3M923.3 501.7v-3M935.9 501.7v-3M948.5 501.7v-3M961.1 501.7v-3M973.7 501.7v-3M986.3 501.7v-3M998.9 501.7v-3M1011.5 501.7v-3M1024.1 501.7v-5M1036.7 501.7v-3M1049.3 501.7v-3M1061.9 501.7v-3M1074.5 501.7v-3M1087.2 501.7v-3M1099.8 501.7v-3M1112.4 501.7v-3M1125 501.7v-3M1137.6 501.7v-3M1150.2 501.7v-5M1162.8 501.7v-3M1175.4 501.7v-3M1188 501.7v-3M1200.6 501.7v-3M1213.2 501.7v-3M1225.8 501.7v-3M1238.4 501.7v-3M1251 501.7v-3M1263.6 501.7v-3M1276.2 501.7v-5" stroke="#8a8a8a" stroke-width="1.1" fill="none"/>
<text x="763" y="130.2" font-size="31" fill="#505050" text-anchor="end"  style="">6</text>
<text x="763" y="256.9" font-size="31" fill="#505050" text-anchor="end"  style="">4</text>
<text x="763" y="383.5" font-size="31" fill="#505050" text-anchor="end"  style="">2</text>
<text x="763" y="510.2" font-size="31" fill="#505050" text-anchor="end"  style="">0</text>
<text x="898.1" y="536.5" font-size="31" fill="#505050" text-anchor="middle"  style="">2</text>
<text x="1024.1" y="536.5" font-size="31" fill="#505050" text-anchor="middle"  style="">4</text>
<text x="1150.2" y="536.5" font-size="31" fill="#505050" text-anchor="middle"  style="">6</text>
<text x="971" y="578.1" font-size="34.5" fill="#505050" text-anchor="start" textLength="106.5" lengthAdjust="spacingAndGlyphs"  style="">R<tspan font-size="31">e</tspan> / Ω</text>
<text transform="translate(731.5,375.6) rotate(-90)" x="0" y="0" font-size="36" fill="#505050" text-anchor="middle" textLength="118.5" lengthAdjust="spacingAndGlyphs">-I<tspan font-size="32">m</tspan> / Ω</text>
<text x="751.8" y="764.8" font-size="36.5" fill="#111" text-anchor="start"  style="">B</text>
<text x="777" y="764.8" font-size="40" fill="#111" text-anchor="start"  style="">)</text>
<path d="M782.3 518.9C782.2 517.4 781.8 513.1 781.8 510C781.8 506.9 781.9 503.7 782.3 500C782.7 496.3 783.1 492.2 784 488C784.9 483.8 786.1 479.3 787.5 475C788.9 470.7 790.5 466.1 792.5 462C794.5 457.9 796.8 454.1 799.5 450.5C802.2 446.9 807.3 442.2 808.9 440.6" fill="none" stroke="#0a6fbd" stroke-width="5" stroke-linecap="round" opacity="1"/>
<path d="M782.3 518.9C782.2 517.4 781.8 513.1 781.8 510C781.8 506.9 781.9 503.7 782.3 500C782.7 496.3 783.1 492.2 784 488C784.9 483.8 786.1 479.3 787.5 475C788.9 470.7 790.5 466.1 792.5 462C794.5 457.9 796.8 454.1 799.5 450.5C802.2 446.9 805.7 444.1 808.9 440.6C812.1 437.1 815.1 433.1 818.6 429.4C822.1 425.7 825.3 421.8 829.7 418.3C834.1 414.8 839.2 411.6 845 408.6C850.8 405.6 857.7 402.6 864.4 400.3C871.1 398 878.1 395.9 885.3 394.7C892.5 393.5 900.1 393.1 907.5 393.3C914.9 393.5 922.5 394.5 929.7 396.1C936.9 397.7 944.4 400.3 950.6 403.1C956.9 405.9 961.9 409.6 967.2 412.8C972.5 416 977.9 418.6 982.5 422.5C987.1 426.4 991 432 995 436.4C999 440.8 1003.6 444.5 1006.7 448.6C1009.8 452.7 1011.3 456.2 1013.6 461.1C1015.9 466 1017.8 473.4 1020.6 477.8C1023.4 482.2 1026.6 486.1 1030.3 487.5C1034 488.9 1038.9 485.6 1042.8 486.1C1046.7 486.6 1050.6 489.4 1053.9 490.3C1057.2 491.2 1060 492.6 1062.8 491.7C1065.6 490.8 1068.1 486.5 1070.6 484.7C1073 482.9 1076.3 481.3 1077.5 480.6" fill="none" stroke="#0a6fbd" stroke-width="2.9" stroke-linejoin="round" stroke-linecap="round"/>
<path d="M779.3 518.9h6M782.3 515.9v6M779.1 515.9h6M782.1 512.9v6M779 513h6M782 510v6M778.8 510h6M781.8 507v6M779 506.7h6M782 503.7v6M779.1 503.3h6M782.1 500.3v6M779.3 500h6M782.3 497v6M779.9 496h6M782.9 493v6M780.4 492h6M783.4 489v6M781 488h6M784 485v6M781.9 484.8h6M784.9 481.8v6M782.8 481.5h6M785.8 478.5v6M783.6 478.2h6M786.6 475.2v6M784.5 475h6M787.5 472v6M785.8 471.8h6M788.8 468.8v6M787 468.5h6M790 465.5v6M788.2 465.2h6M791.2 462.2v6M789.5 462h6M792.5 459v6M791.2 459.1h6M794.2 456.1v6M793 456.2h6M796 453.2v6M794.8 453.4h6M797.8 450.4v6M796.5 450.5h6M799.5 447.5v6M798.9 448h6M801.9 445v6M801.2 445.6h6M804.2 442.6v6M803.5 443.1h6M806.5 440.1v6M805.9 440.6h6M808.9 437.6v6M815.6 429.4h6M818.6 426.4v6M826.7 418.3h6M829.7 415.3v6M842 408.6h6M845 405.6v6M861.4 400.3h6M864.4 397.3v6M882.3 394.7h6M885.3 391.7v6M904.5 393.3h6M907.5 390.3v6M926.7 396.1h6M929.7 393.1v6M947.6 403.1h6M950.6 400.1v6M964.2 412.8h6M967.2 409.8v6M979.5 422.5h6M982.5 419.5v6M992 436.4h6M995 433.4v6" stroke="#0a6fbd" stroke-width="1.5" fill="none"/>
<path d="M995 436.4C997 438.4 1003.6 444.5 1006.7 448.6C1009.8 452.7 1011.3 456.2 1013.6 461.1C1015.9 466 1017.8 473.4 1020.6 477.8C1023.4 482.2 1026.6 486.1 1030.3 487.5C1034 488.9 1038.9 485.6 1042.8 486.1C1046.7 486.6 1050.6 489.4 1053.9 490.3C1057.2 491.2 1060 492.6 1062.8 491.7C1065.6 490.8 1068.1 486.5 1070.6 484.7C1073 482.9 1076.3 481.3 1077.5 480.6" fill="none" stroke="#0a6fbd" stroke-width="3.0" stroke-linejoin="round" stroke-linecap="round"/>
<path d="M1003.7 448.6h6M1006.7 445.6v6M1005.4 451.7h6M1008.4 448.7v6M1007.2 454.9h6M1010.2 451.9v6M1008.9 458h6M1011.9 455v6M1010.6 461.1h6M1013.6 458.1v6M1012 464.4h6M1015 461.4v6M1013.4 467.8h6M1016.4 464.8v6M1014.8 471.1h6M1017.8 468.1v6M1016.2 474.5h6M1019.2 471.5v6M1017.6 477.8h6M1020.6 474.8v6M1020 480.2h6M1023 477.2v6M1022.5 482.6h6M1025.5 479.6v6M1024.9 485.1h6M1027.9 482.1v6M1027.3 487.5h6M1030.3 484.5v6M1031.5 487h6M1034.5 484v6M1035.6 486.6h6M1038.6 483.6v6M1039.8 486.1h6M1042.8 483.1v6M1043.5 487.5h6M1046.5 484.5v6M1047.2 488.9h6M1050.2 485.9v6M1050.9 490.3h6M1053.9 487.3v6M1053.9 490.8h6M1056.9 487.8v6M1056.8 491.2h6M1059.8 488.2v6M1059.8 491.7h6M1062.8 488.7v6M1062.4 489.4h6M1065.4 486.4v6M1065 487h6M1068 484v6M1067.6 484.7h6M1070.6 481.7v6M1071 482.6h6M1074 479.6v6M1074.5 480.6h6M1077.5 477.6v6" stroke="#0a6fbd" stroke-width="1.6" fill="none"/>
<path d="M781 514C780.8 512.5 779.9 508.2 779.8 505C779.7 501.8 780 498.8 780.5 495C781 491.2 781.8 486.2 782.8 482C783.8 477.8 785.3 474 786.8 470C788.3 466 790.1 462 792 458C793.9 454 796 449.8 798.3 446C800.5 442.2 802.8 439.2 805.5 435.5C808.2 431.8 812.9 425.8 814.4 423.9" fill="none" stroke="#d95319" stroke-width="4.2" stroke-linecap="round" opacity="1"/>
<path d="M781 514C780.8 512.5 779.9 508.2 779.8 505C779.7 501.8 780 498.8 780.5 495C781 491.2 781.8 486.2 782.8 482C783.8 477.8 785.3 474 786.8 470C788.3 466 790.1 462 792 458C793.9 454 796 449.8 798.3 446C800.5 442.2 802.8 439.2 805.5 435.5C808.2 431.8 810.6 428.8 814.4 423.9C818.2 418.9 823.7 410.4 828.3 405.8C832.9 401.2 836.6 399.8 842.2 396.1C847.8 392.4 854.8 387.5 861.7 383.6C868.7 379.7 875.6 375.5 883.9 372.5C892.2 369.5 902.5 366.9 911.7 365.6C921 364.3 929.9 364.2 939.4 364.7C948.9 365.1 959.3 366.3 968.6 368.3C977.9 370.3 987 373.3 995 376.7C1003 380.1 1009.8 384.5 1016.4 388.9C1023 393.2 1029.1 398.2 1034.4 402.8C1039.7 407.4 1044.1 412.1 1048.3 416.7C1052.5 421.3 1055.9 426.2 1059.4 430.6C1062.9 435 1066.7 438.5 1069.2 443.1C1071.8 447.7 1072.9 453.5 1074.7 458.3C1076.5 463.1 1078 467.8 1080.3 472.2C1082.6 476.6 1085.1 482.8 1088.6 484.7C1092.1 486.6 1097.2 483.3 1101.1 483.3C1105 483.3 1108 483.5 1112.2 484.7C1116.4 485.9 1121.9 491 1126.1 490.3C1130.3 489.6 1135.3 482.2 1137.2 480.6" fill="none" stroke="#d95319" stroke-width="2.9" stroke-linejoin="round" stroke-linecap="round"/>
<path d="M778 514h6M781 511v6M777.6 511h6M780.6 508v6M777.2 508h6M780.2 505v6M776.8 505h6M779.8 502v6M777 501.7h6M780 498.7v6M777.3 498.3h6M780.3 495.3v6M777.5 495h6M780.5 492v6M778.1 491.8h6M781.1 488.8v6M778.6 488.5h6M781.6 485.5v6M779.2 485.2h6M782.2 482.2v6M779.8 482h6M782.8 479v6M780.8 479h6M783.8 476v6M781.8 476h6M784.8 473v6M782.8 473h6M785.8 470v6M783.8 470h6M786.8 467v6M785.1 467h6M788.1 464v6M786.4 464h6M789.4 461v6M787.7 461h6M790.7 458v6M789 458h6M792 455v6M790.6 455h6M793.6 452v6M792.1 452h6M795.1 449v6M793.7 449h6M796.7 446v6M795.3 446h6M798.3 443v6M797.1 443.4h6M800.1 440.4v6M798.9 440.8h6M801.9 437.8v6M800.7 438.1h6M803.7 435.1v6M802.5 435.5h6M805.5 432.5v6M804.7 432.6h6M807.7 429.6v6M807 429.7h6M810 426.7v6M809.2 426.8h6M812.2 423.8v6M811.4 423.9h6M814.4 420.9v6M825.3 405.8h6M828.3 402.8v6M839.2 396.1h6M842.2 393.1v6M858.7 383.6h6M861.7 380.6v6M880.9 372.5h6M883.9 369.5v6M908.7 365.6h6M911.7 362.6v6M936.4 364.7h6M939.4 361.7v6M965.6 368.3h6M968.6 365.3v6M992 376.7h6M995 373.7v6M1013.4 388.9h6M1016.4 385.9v6M1031.4 402.8h6M1034.4 399.8v6M1045.3 416.7h6M1048.3 413.7v6M1056.4 430.6h6M1059.4 427.6v6" stroke="#d95319" stroke-width="1.5" fill="none"/>
<path d="M1059.4 430.6C1061 432.7 1066.7 438.5 1069.2 443.1C1071.8 447.7 1072.9 453.5 1074.7 458.3C1076.5 463.1 1078 467.8 1080.3 472.2C1082.6 476.6 1085.1 482.8 1088.6 484.7C1092.1 486.6 1097.2 483.3 1101.1 483.3C1105 483.3 1108 483.5 1112.2 484.7C1116.4 485.9 1121.9 491 1126.1 490.3C1130.3 489.6 1135.3 482.2 1137.2 480.6" fill="none" stroke="#d95319" stroke-width="3.0" stroke-linejoin="round" stroke-linecap="round"/>
<path d="M1066.2 443.1h6M1069.2 440.1v6M1067.6 446.9h6M1070.6 443.9v6M1069 450.7h6M1072 447.7v6M1070.3 454.5h6M1073.3 451.5v6M1071.7 458.3h6M1074.7 455.3v6M1073.1 461.8h6M1076.1 458.8v6M1074.5 465.2h6M1077.5 462.2v6M1075.9 468.7h6M1078.9 465.7v6M1077.3 472.2h6M1080.3 469.2v6M1079.4 475.3h6M1082.4 472.3v6M1081.4 478.4h6M1084.4 475.4v6M1083.5 481.6h6M1086.5 478.6v6M1085.6 484.7h6M1088.6 481.7v6M1089.8 484.2h6M1092.8 481.2v6M1093.9 483.8h6M1096.9 480.8v6M1098.1 483.3h6M1101.1 480.3v6M1101.8 483.8h6M1104.8 480.8v6M1105.5 484.2h6M1108.5 481.2v6M1109.2 484.7h6M1112.2 481.7v6M1112.7 486.1h6M1115.7 483.1v6M1116.2 487.5h6M1119.2 484.5v6M1119.6 488.9h6M1122.6 485.9v6M1123.1 490.3h6M1126.1 487.3v6M1125.9 487.9h6M1128.9 484.9v6M1128.7 485.5h6M1131.7 482.5v6M1131.4 483h6M1134.4 480v6M1134.2 480.6h6M1137.2 477.6v6" stroke="#d95319" stroke-width="1.6" fill="none"/>
<path d="M783.8 514C783.9 512.5 784 508.2 784.3 505C784.6 501.8 784.9 498.8 785.6 495C786.3 491.2 787.2 486.2 788.3 482C789.4 477.8 790.7 474 792.2 470C793.7 466 795.5 461.8 797.4 458C799.3 454.2 801.3 450.7 803.4 447C805.5 443.3 807.7 439.8 810 436C812.3 432.2 815.8 426.4 817 424.5" fill="none" stroke="#edb120" stroke-width="6.5" stroke-linecap="round" opacity="0.92"/>
<path d="M783.8 514C783.9 512.5 784 508.2 784.3 505C784.6 501.8 784.9 498.8 785.6 495C786.3 491.2 787.2 486.2 788.3 482C789.4 477.8 790.7 474 792.2 470C793.7 466 795.5 461.8 797.4 458C799.3 454.2 801.3 450.7 803.4 447C805.5 443.3 807.7 439.8 810 436C812.3 432.2 814.2 429.8 817 424.5C819.8 419.2 822.6 410.5 827 404.4C831.4 398.3 837.4 393.6 843.6 387.8C849.8 382 857 375.3 864.4 369.7C871.8 364.1 879.2 359 888 354.4C896.8 349.8 906.6 345.4 917.2 341.9C927.9 338.4 940.1 335.5 951.9 333.6C963.7 331.8 976.2 330.2 988.1 330.8C1000 331.4 1012.3 334.4 1023.3 337.5C1034.3 340.6 1044.2 344.9 1053.9 349.4C1063.6 353.9 1073.6 359.2 1081.7 364.4C1089.8 369.6 1096.2 375.1 1102.5 380.6C1108.8 386.1 1114.3 391.6 1119.2 397.2C1124.1 402.8 1127.3 407.5 1131.7 413.9C1136.1 420.3 1141.9 429.4 1145.6 435.6C1149.3 441.9 1151.4 445.8 1153.9 451.4C1156.4 457 1158.2 464.6 1160.8 469.4C1163.3 474.2 1166 478.8 1169.2 480.2C1172.4 481.6 1176.4 478.3 1180 477.5C1183.6 476.7 1187.2 475.7 1191 475.5C1194.8 475.3 1198.8 475.6 1203 476.5C1207.2 477.4 1211.7 479.2 1216 480.6C1220.3 482 1225.4 484.9 1228.9 484.7C1232.4 484.5 1234.4 481.2 1237.2 479.2C1240 477.2 1244.2 473.7 1245.6 472.6" fill="none" stroke="#edb120" stroke-width="2.9" stroke-linejoin="round" stroke-linecap="round"/>
<path d="M780.8 514h6M783.8 511v6M781 511h6M784 508v6M781.1 508h6M784.1 505v6M781.3 505h6M784.3 502v6M781.7 501.7h6M784.7 498.7v6M782.2 498.3h6M785.2 495.3v6M782.6 495h6M785.6 492v6M783.3 491.8h6M786.3 488.8v6M784 488.5h6M787 485.5v6M784.6 485.2h6M787.6 482.2v6M785.3 482h6M788.3 479v6M786.3 479h6M789.3 476v6M787.2 476h6M790.2 473v6M788.2 473h6M791.2 470v6M789.2 470h6M792.2 467v6M790.5 467h6M793.5 464v6M791.8 464h6M794.8 461v6M793.1 461h6M796.1 458v6M794.4 458h6M797.4 455v6M795.9 455.2h6M798.9 452.2v6M797.4 452.5h6M800.4 449.5v6M798.9 449.8h6M801.9 446.8v6M800.4 447h6M803.4 444v6M802 444.2h6M805 441.2v6M803.7 441.5h6M806.7 438.5v6M805.4 438.8h6M808.4 435.8v6M807 436h6M810 433v6M808.8 433.1h6M811.8 430.1v6M810.5 430.2h6M813.5 427.2v6M812.2 427.4h6M815.2 424.4v6M814 424.5h6M817 421.5v6M824 404.4h6M827 401.4v6M840.6 387.8h6M843.6 384.8v6M861.4 369.7h6M864.4 366.7v6M885 354.4h6M888 351.4v6M914.2 341.9h6M917.2 338.9v6M948.9 333.6h6M951.9 330.6v6M985.1 330.8h6M988.1 327.8v6M1020.3 337.5h6M1023.3 334.5v6M1050.9 349.4h6M1053.9 346.4v6M1078.7 364.4h6M1081.7 361.4v6M1099.5 380.6h6M1102.5 377.6v6M1116.2 397.2h6M1119.2 394.2v6M1128.7 413.9h6M1131.7 410.9v6" stroke="#edb120" stroke-width="1.5" fill="none"/>
<path d="M1131.7 413.9C1134 417.5 1141.9 429.4 1145.6 435.6C1149.3 441.9 1151.4 445.8 1153.9 451.4C1156.4 457 1158.2 464.6 1160.8 469.4C1163.3 474.2 1166 478.8 1169.2 480.2C1172.4 481.6 1176.4 478.3 1180 477.5C1183.6 476.7 1187.2 475.7 1191 475.5C1194.8 475.3 1198.8 475.6 1203 476.5C1207.2 477.4 1211.7 479.2 1216 480.6C1220.3 482 1225.4 484.9 1228.9 484.7C1232.4 484.5 1234.4 481.2 1237.2 479.2C1240 477.2 1244.2 473.7 1245.6 472.6" fill="none" stroke="#edb120" stroke-width="3.0" stroke-linejoin="round" stroke-linecap="round"/>
<path d="M1142.6 435.6h6M1145.6 432.6v6M1144.3 438.8h6M1147.3 435.8v6M1145.9 441.9h6M1148.9 438.9v6M1147.6 445.1h6M1150.6 442.1v6M1149.2 448.2h6M1152.2 445.2v6M1150.9 451.4h6M1153.9 448.4v6M1152.3 455h6M1155.3 452v6M1153.7 458.6h6M1156.7 455.6v6M1155 462.2h6M1158 459.2v6M1156.4 465.8h6M1159.4 462.8v6M1157.8 469.4h6M1160.8 466.4v6M1159.9 472.1h6M1162.9 469.1v6M1162 474.8h6M1165 471.8v6M1164.1 477.5h6M1167.1 474.5v6M1166.2 480.2h6M1169.2 477.2v6M1169.8 479.3h6M1172.8 476.3v6M1173.4 478.4h6M1176.4 475.4v6M1177 477.5h6M1180 474.5v6M1180.7 476.8h6M1183.7 473.8v6M1184.3 476.2h6M1187.3 473.2v6M1188 475.5h6M1191 472.5v6M1192 475.8h6M1195 472.8v6M1196 476.2h6M1199 473.2v6M1200 476.5h6M1203 473.5v6M1203.2 477.5h6M1206.2 474.5v6M1206.5 478.6h6M1209.5 475.6v6M1209.8 479.6h6M1212.8 476.6v6M1213 480.6h6M1216 477.6v6M1216.2 481.6h6M1219.2 478.6v6M1219.5 482.6h6M1222.5 479.6v6M1222.7 483.7h6M1225.7 480.7v6M1225.9 484.7h6M1228.9 481.7v6M1228.7 482.9h6M1231.7 479.9v6M1231.4 481h6M1234.4 478v6M1234.2 479.2h6M1237.2 476.2v6M1237 477h6M1240 474v6M1239.8 474.8h6M1242.8 471.8v6M1242.6 472.6h6M1245.6 469.6v6" stroke="#edb120" stroke-width="1.6" fill="none"/>
<circle cx="1006.7" cy="448.6" r="5.8" fill="none" stroke="#1e8a1e" stroke-width="3.2"/>
<circle cx="1069.2" cy="443.1" r="5.8" fill="none" stroke="#1e8a1e" stroke-width="3.2"/>
<circle cx="1145.2" cy="435.2" r="5.8" fill="none" stroke="#1e8a1e" stroke-width="3.2"/>
<circle cx="1062.8" cy="491.7" r="5.6" fill="none" stroke="#111" stroke-width="3.4"/>
<circle cx="1126.1" cy="490.3" r="5.6" fill="none" stroke="#111" stroke-width="3.4"/>
<circle cx="1228.9" cy="484.7" r="5.6" fill="none" stroke="#111" stroke-width="3.4"/>
<text x="810.3" y="455.8" font-size="20" fill="#333" text-anchor="start" stroke="#333" stroke-width="0.45" style="">10k</text>
<text x="942.2" y="397.5" font-size="20" fill="#333" text-anchor="start" stroke="#333" stroke-width="0.45" style="">1k</text>
<text x="971.4" y="365.6" font-size="20" fill="#333" text-anchor="start" stroke="#333" stroke-width="0.45" style="">1k</text>
<text x="1008" y="332" font-size="20" fill="#333" text-anchor="start" stroke="#333" stroke-width="0.45" style="">1k</text>
<text x="1017.8" y="463.9" font-size="20" fill="#333" text-anchor="start" stroke="#333" stroke-width="0.45" style="">100</text>
<text x="1080.3" y="458.3" font-size="20" fill="#333" text-anchor="start" stroke="#333" stroke-width="0.45" style="">100</text>
<text x="1155.3" y="452.8" font-size="20" fill="#333" text-anchor="start" stroke="#333" stroke-width="0.45" style="">100</text>
<text x="1056.7" y="483.3" font-size="20" fill="#333" text-anchor="start" stroke="#333" stroke-width="0.45" style="">1</text>
<text x="1119.6" y="480.6" font-size="20" fill="#333" text-anchor="start" stroke="#333" stroke-width="0.45" style="">1</text>
<text x="1221.4" y="475" font-size="20" fill="#333" text-anchor="start" stroke="#333" stroke-width="0.45" style="">1</text>
<path d="M1089 154.3h25" stroke="#0a6fbd" stroke-width="2.4" fill="none"/>
<path d="M1102.2 151.8v5" stroke="#0a6fbd" stroke-width="1.4"/>
<text x="1116.5" y="162.8" font-size="33" fill="#1a1a1a" text-anchor="start" textLength="112.4" lengthAdjust="spacingAndGlyphs"  style="">0 <tspan font-size="29.5">cycles</tspan></text>
<path d="M1089 194.6h25" stroke="#d95319" stroke-width="2.4" fill="none"/>
<path d="M1102.2 192.1v5" stroke="#d95319" stroke-width="1.4"/>
<text x="1116.5" y="203.1" font-size="33" fill="#1a1a1a" text-anchor="start" textLength="146.5" lengthAdjust="spacingAndGlyphs"  style="">200 <tspan font-size="29.5">cycles</tspan></text>
<path d="M1089 234.9h25" stroke="#edb120" stroke-width="2.4" fill="none"/>
<path d="M1102.2 232.4v5" stroke="#edb120" stroke-width="1.4"/>
<text x="1116.5" y="243.4" font-size="33" fill="#1a1a1a" text-anchor="start" textLength="146.5" lengthAdjust="spacingAndGlyphs"  style="">400 <tspan font-size="29.5">cycles</tspan></text>
</g>
</svg>
</body></html>
